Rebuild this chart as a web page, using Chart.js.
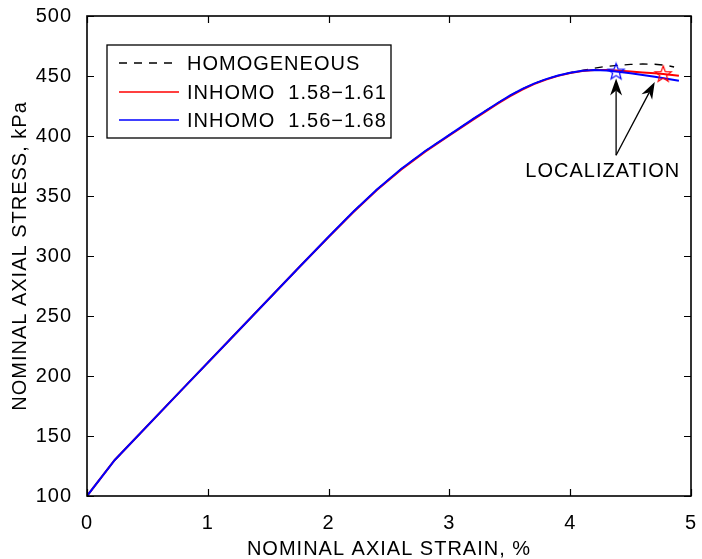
<!DOCTYPE html>
<html>
<head>
<meta charset="utf-8">
<script src="https://cdn.jsdelivr.net/npm/chart.js@4/dist/chart.umd.min.js"></script>
<style>
  html, body { margin: 0; padding: 0; background: #fff; }
  #wrap { width: 702px; height: 559px; position: relative; }
</style>
</head>
<body>
<div id="wrap"><canvas id="stressChart"></canvas></div>
<script>
// values
const homogStrain = [0, 0.23, 0.77, 1.17, 1.76, 2.0, 2.2, 2.4, 2.6, 2.8, 3.0, 3.2, 3.4, 3.5, 3.6, 3.7, 3.8, 3.9, 4.0, 4.1, 4.2, 4.3, 4.4, 4.5, 4.6, 4.7, 4.8, 4.86];
const homogStress = [100, 130, 187, 229, 291, 316, 336.5, 355.5, 372.5, 387.5, 401, 414.5, 427.5, 433.6, 439, 443.6, 447.4, 450.4, 452.7, 454.6, 456.6, 458, 459, 459.7, 460, 459.8, 458.8, 457.5];

const red158Strain = [0, 0.23, 0.77, 1.17, 1.76, 2.0, 2.2, 2.4, 2.6, 2.8, 3.0, 3.2, 3.4, 3.5, 3.6, 3.7, 3.8, 3.9, 4.0, 4.1, 4.2, 4.3, 4.38, 4.5, 4.6, 4.7, 4.77, 4.9];
const red158Stress = [100, 130, 187, 229, 291, 315.8, 336.1, 355, 371.9, 386.9, 400.4, 413.9, 427, 433.1, 438.5, 443.2, 447, 450.1, 452.5, 454.1, 455, 455, 454.6, 453.8, 453, 452.3, 451.7, 450.3];

const blue156Strain = [0, 0.23, 0.77, 1.17, 1.76, 2.0, 2.2, 2.4, 2.6, 2.8, 3.0, 3.2, 3.4, 3.5, 3.6, 3.7, 3.8, 3.9, 4.0, 4.1, 4.2, 4.3, 4.38, 4.5, 4.6, 4.7, 4.8, 4.9];
const blue156Stress = [100, 130, 187, 229, 291, 316, 336.5, 355.5, 372.5, 387.5, 401, 414.5, 427.5, 433.6, 439, 443.6, 447.4, 450.4, 452.7, 454.3, 455, 454.6, 453.8, 452.3, 450.9, 449.3, 447.7, 446];

const localStrain = [4.38, 4.77];
const localStress = [453.8, 451.7];

const xTicks = [0, 1, 2, 3, 4, 5];
const yTicks = [100, 150, 200, 250, 300, 350, 400, 450, 500];

const legendLabels = ["HOMOGENEOUS", "INHOMO  1.58\u22121.61", "INHOMO  1.56\u22121.68"];

const FONT = "'Liberation Sans', Arial, Helvetica, sans-serif";
const SPACING = "1px";

function pts(xs, ys) {
  return xs.map((x, i) => ({ x: x, y: ys[i] }));
}

function starImage(color) {
  const c = document.createElement("canvas");
  c.width = 20;
  c.height = 20;
  const g = c.getContext("2d");
  g.strokeStyle = color;
  g.lineWidth = 1.2;
  g.beginPath();
  for (let i = 0; i < 10; i++) {
    const r = i % 2 === 0 ? 8.5 : 3.6;
    const a = -Math.PI / 2 + (i * Math.PI) / 5;
    const px = 10 + r * Math.cos(a);
    const py = 10.5 + r * Math.sin(a);
    if (i === 0) g.moveTo(px, py);
    else g.lineTo(px, py);
  }
  g.closePath();
  g.stroke();
  return c;
}

function arrow(ctx, x0, y0, x1, y1) {
  const ang = Math.atan2(y1 - y0, x1 - x0);
  const len = 17, half = 6, notch = 12;
  const cx = Math.cos(ang), cy = Math.sin(ang);
  ctx.beginPath();
  ctx.moveTo(x0, y0);
  ctx.lineTo(x1 - notch * cx, y1 - notch * cy);
  ctx.stroke();
  const bx = x1 - len * cx, by = y1 - len * cy;
  const nx = -cy, ny = cx;
  ctx.beginPath();
  ctx.moveTo(x1, y1);
  ctx.lineTo(bx + nx * half, by + ny * half);
  ctx.lineTo(x1 - notch * cx, y1 - notch * cy);
  ctx.lineTo(bx - nx * half, by - ny * half);
  ctx.closePath();
  ctx.fill();
}

// letter spacing to match the wide lettering of the original
const spacingPlugin = {
  id: "spacing",
  beforeLayout(chart) { chart.ctx.letterSpacing = SPACING; },
  beforeDraw(chart) { chart.ctx.letterSpacing = SPACING; },
};

// white background, box frame, inward ticks on all four sides
const framePlugin = {
  id: "frame",
  beforeDraw(chart) {
    const ctx = chart.ctx;
    ctx.save();
    ctx.fillStyle = "#fff";
    ctx.fillRect(0, 0, chart.width, chart.height);
    ctx.restore();
  },
  afterDatasetsDraw(chart) {
    const { ctx, chartArea: a, scales } = chart;
    ctx.save();
    ctx.strokeStyle = "#000";
    ctx.lineWidth = 1.2;
    const tl = 7;
    ctx.beginPath();
    xTicks.forEach((v) => {
      const x = Math.round(scales.x.getPixelForValue(v)) + 0.5;
      ctx.moveTo(x, a.bottom); ctx.lineTo(x, a.bottom - tl);
      ctx.moveTo(x, a.top); ctx.lineTo(x, a.top + tl);
    });
    yTicks.forEach((v) => {
      const y = Math.round(scales.y.getPixelForValue(v)) + 0.5;
      ctx.moveTo(a.left, y); ctx.lineTo(a.left + tl, y);
      ctx.moveTo(a.right, y); ctx.lineTo(a.right - tl, y);
    });
    ctx.stroke();
    ctx.lineWidth = 1.6;
    ctx.strokeRect(a.left, a.top, a.right - a.left, a.bottom - a.top);
    ctx.restore();
  },
};

// arrows and LOCALIZATION label
const notePlugin = {
  id: "note",
  afterDatasetsDraw(chart) {
    const { ctx, scales } = chart;
    const sx = (v) => scales.x.getPixelForValue(v);
    const sy = (v) => scales.y.getPixelForValue(v);
    ctx.save();
    ctx.letterSpacing = SPACING;
    ctx.strokeStyle = "#000";
    ctx.fillStyle = "#000";
    ctx.lineWidth = 1.3;
    arrow(ctx, sx(4.38), sy(384), sx(4.38), sy(448));
    arrow(ctx, sx(4.38), sy(384), sx(4.70), sy(445));
    ctx.font = "20px " + FONT;
    ctx.textAlign = "center";
    ctx.textBaseline = "alphabetic";
    ctx.fillText("LOCALIZATION", sx(4.27), sy(365.5));
    ctx.restore();
  },
};

// boxed legend inside the plot, upper left
const legendPlugin = {
  id: "boxLegend",
  afterDraw(chart) {
    const { ctx, chartArea: a } = chart;
    const left = a.left + 20, top = a.top + 29, w = 284, h = 93;
    ctx.save();
    ctx.letterSpacing = SPACING;
    ctx.fillStyle = "#fff";
    ctx.fillRect(left, top, w, h);
    ctx.strokeStyle = "#000";
    ctx.lineWidth = 1.3;
    ctx.strokeRect(left, top, w, h);
    const rows = [18, 47, 75];
    const ds = chart.data.datasets;
    ctx.font = "20px " + FONT;
    ctx.textBaseline = "middle";
    ctx.textAlign = "left";
    legendLabels.forEach((label, i) => {
      const y = top + rows[i];
      const d = ds[i];
      ctx.strokeStyle = d.borderColor;
      ctx.lineWidth = d.legendWidth;
      ctx.setLineDash(d.borderDash || []);
      ctx.beginPath();
      ctx.moveTo(left + 12, y);
      ctx.lineTo(left + 72, y);
      ctx.stroke();
      ctx.setLineDash([]);
      ctx.fillStyle = "#000";
      ctx.fillText(label, left + 80, y + 1);
    });
    ctx.restore();
  },
};

new Chart(document.getElementById("stressChart"), {
  type: "line",
  data: {
    datasets: [
      {
        label: legendLabels[0],
        data: pts(homogStrain, homogStress),
        borderColor: "#000",
        borderWidth: 1.3,
        legendWidth: 1.3,
        borderDash: [8, 7],
        pointRadius: 0,
        order: 3,
      },
      {
        label: legendLabels[1],
        data: pts(red158Strain, red158Stress),
        borderColor: "#ff0000",
        borderWidth: 2,
        legendWidth: 1.5,
        pointRadius: 0,
        order: 2,
      },
      {
        label: legendLabels[2],
        data: pts(blue156Strain, blue156Stress),
        borderColor: "#0000ff",
        borderWidth: 2,
        legendWidth: 1.5,
        pointRadius: 0,
        order: 1,
      },
      {
        label: "blue localization",
        data: pts(localStrain.slice(0, 1), localStress.slice(0, 1)),
        showLine: false,
        pointStyle: starImage("#0000ff"),
        pointRadius: 10,
        order: 0,
      },
      {
        label: "red localization",
        data: pts(localStrain.slice(1), localStress.slice(1)),
        showLine: false,
        pointStyle: starImage("#ff0000"),
        pointRadius: 10,
        order: 0,
      },
    ],
  },
  options: {
    responsive: true,
    maintainAspectRatio: false,
    animation: false,
    layout: { padding: { top: 16, right: 8, left: 0, bottom: 0 } },
    plugins: {
      legend: { display: false },
      tooltip: { enabled: false },
    },
    scales: {
      x: {
        type: "linear",
        min: 0,
        max: 5,
        afterFit: (scale) => {
          scale.height = 63;
          scale.paddingLeft = 0;
          scale.paddingRight = 0;
        },
        afterBuildTicks: (scale) => { scale.ticks = xTicks.map((v) => ({ value: v })); },
        grid: { display: false },
        border: { display: false },
        ticks: {
          color: "#000",
          padding: 7,
          maxRotation: 0,
          autoSkip: false,
          font: { family: FONT, size: 20 },
        },
        title: {
          display: true,
          text: "NOMINAL AXIAL STRAIN, %",
          color: "#000",
          padding: { top: 0, bottom: -2 },
          font: { family: FONT, size: 20 },
        },
      },
      y: {
        min: 100,
        max: 500,
        afterFit: (scale) => {
          scale.width = 87;
          scale.paddingTop = 0;
          scale.paddingBottom = 0;
        },
        afterBuildTicks: (scale) => { scale.ticks = yTicks.map((v) => ({ value: v })); },
        grid: { display: false },
        border: { display: false },
        ticks: {
          color: "#000",
          padding: 7,
          autoSkip: false,
          font: { family: FONT, size: 20 },
        },
        title: {
          display: true,
          text: "NOMINAL AXIAL STRESS, kPa",
          color: "#000",
          padding: { top: 8, bottom: 0 },
          font: { family: FONT, size: 20 },
        },
      },
    },
  },
  plugins: [spacingPlugin, framePlugin, notePlugin, legendPlugin],
});
</script>
</body>
</html>
